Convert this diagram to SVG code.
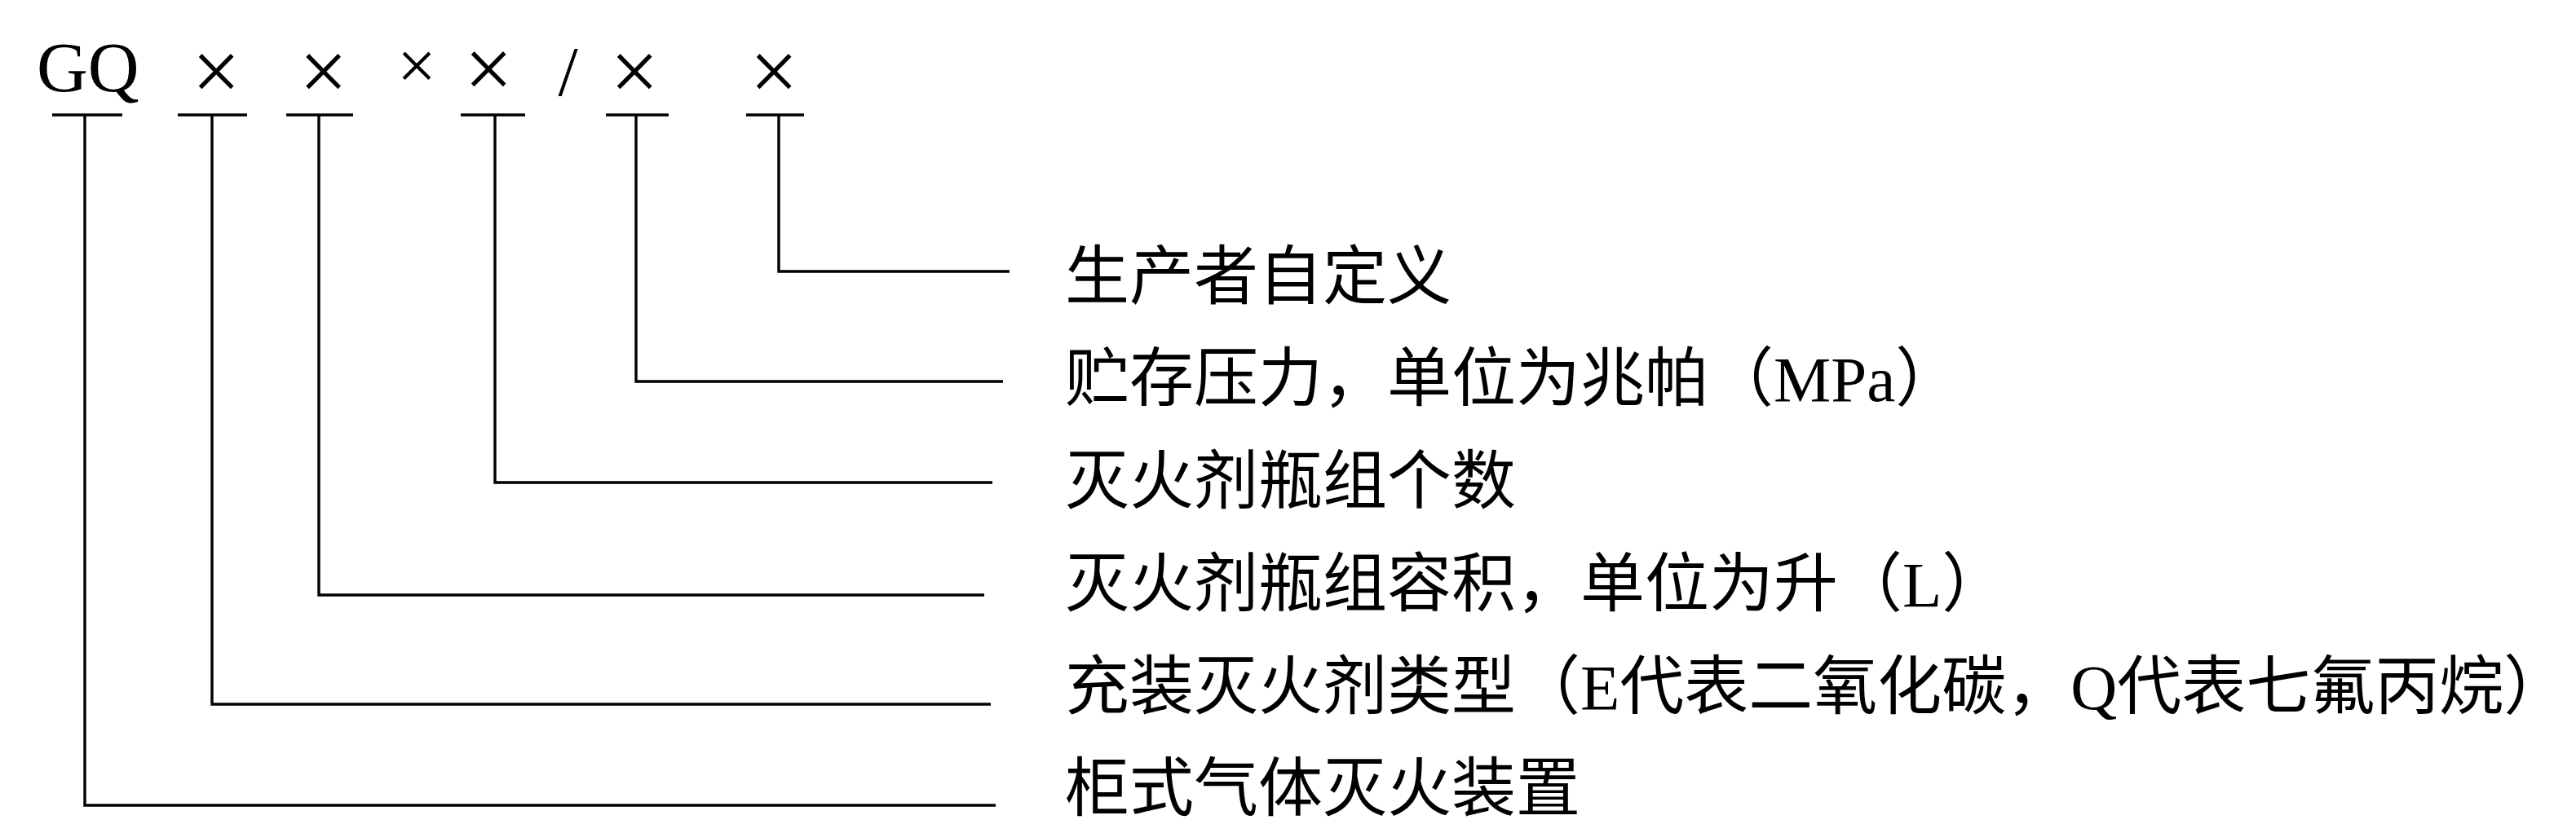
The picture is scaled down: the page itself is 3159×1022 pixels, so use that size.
<svg xmlns="http://www.w3.org/2000/svg" width="3159" height="1022" viewBox="0 0 3159 1022">
<style>
.bg{fill:#ffffff}
.t{font-family:"Liberation Serif","Noto Sans CJK SC",serif;fill:#000000}
.lbl{font-size:79px}
.code{font-size:87px}
.x{font-size:105px;text-anchor:middle}
.xs{font-size:85px;text-anchor:middle}
.bar{stroke:#000000;stroke-width:3.4;fill:none}
.con{stroke:#000000;stroke-width:3.4;fill:none;stroke-linejoin:miter;stroke-linecap:butt}
</style>
<rect class="bg" x="0" y="0" width="3159" height="1022"/>
<g id="code">
  <g id="code-GQ"><text class="t code" x="45" y="112">GQ</text><line class="bar" x1="64" y1="141" x2="150" y2="141"/></g>
  <g id="code-type"><text class="t x" x="265" y="123">×</text><line class="bar" x1="218" y1="141" x2="303" y2="141"/></g>
  <g id="code-volume"><text class="t x" x="396.5" y="123">×</text><line class="bar" x1="351" y1="141" x2="433" y2="141"/></g>
  <g id="code-count"><text class="t xs" x="511" y="109">×</text><text class="t x" x="599" y="120">×</text><line class="bar" x1="565" y1="141" x2="644" y2="141"/></g>
  <g id="code-slash"><text class="t code" x="696.5" y="117" text-anchor="middle">/</text></g>
  <g id="code-pressure"><text class="t x" x="778" y="123">×</text><line class="bar" x1="743" y1="141" x2="820" y2="141"/></g>
  <g id="code-custom"><text class="t x" x="949" y="123">×</text><line class="bar" x1="915" y1="141" x2="986" y2="141"/></g>
</g>
<g id="connectors">
  <polyline class="con" points="955,141 955,333 1238,333"/>
  <polyline class="con" points="780,141 780,468 1230,468"/>
  <polyline class="con" points="607,141 607,592 1217,592"/>
  <polyline class="con" points="391,141 391,730 1207,730"/>
  <polyline class="con" points="260,141 260,864 1215,864"/>
  <polyline class="con" points="104,141 104,988 1221,988"/>
</g>
<g id="label-custom"><text class="t lbl" x="1306" y="367">生产者自定义</text></g>
<g id="label-pressure"><text class="t lbl" x="1306" y="492">贮存压力，单位为兆帕（MPa）</text></g>
<g id="label-count"><text class="t lbl" x="1306" y="618">灭火剂瓶组个数</text></g>
<g id="label-volume"><text class="t lbl" x="1306" y="744">灭火剂瓶组容积，单位为升（L）</text></g>
<g id="label-type"><text class="t lbl" x="1306" y="870">充装灭火剂类型（E代表二氧化碳，Q代表七氟丙烷）</text></g>
<g id="label-device"><text class="t lbl" x="1306" y="995">柜式气体灭火装置</text></g>
</svg>
